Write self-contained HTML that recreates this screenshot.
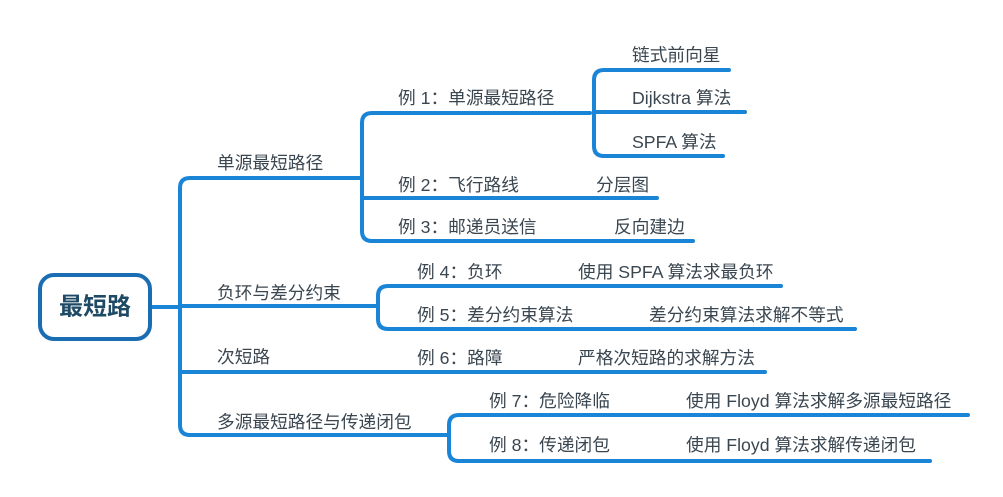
<!DOCTYPE html>
<html><head><meta charset="utf-8"><style>
html,body{margin:0;padding:0;background:#fff;}
svg{display:block}
text{font-family:"Liberation Sans","Noto Sans CJK SC",sans-serif;font-size:17.7px;fill:#3a4650;dominant-baseline:central;}
</style></head><body>
<svg width="1003" height="497" viewBox="0 0 1003 497">
<g fill="none" stroke="#1a84d6" stroke-width="4" stroke-linecap="round" stroke-linejoin="round">
<path d="M150 307 H180"/>
<path d="M362 178 H190 Q180 178 180 188 V425 Q180 435 190 435 H449"/>
<path d="M180 306 H378"/>
<path d="M180 372 H765"/>
<path d="M590 113 H372 Q362 113 362 123 V231 Q362 241 372 241 H693"/>
<path d="M362 198 H657"/>
<path d="M729 70 H604 Q594 70 594 80 V146 Q594 156 604 156 H723"/>
<path d="M594 112 H745"/>
<path d="M781 286 H388 Q378 286 378 296 V319 Q378 329 388 329 H855"/>
<path d="M968 415 H459 Q449 415 449 425 V451 Q449 461 459 461 H930"/>
</g>
<rect x="40" y="275" width="110" height="64" rx="14" fill="#fff" stroke="#1a6db3" stroke-width="4"/>
<text x="95" y="307" text-anchor="middle" style="font-size:24px;font-weight:bold;fill:#1e4a66">最短路</text>

<text x="217" y="163">单源最短路径</text>
<text x="217" y="293">负环与差分约束</text>
<text x="217" y="357">次短路</text>
<text x="217" y="422">多源最短路径与传递闭包</text>

<text x="398" y="98">例 1：单源最短路径</text>
<text x="398" y="185">例 2：飞行路线</text>
<text x="398" y="227">例 3：邮递员送信</text>
<text x="632" y="55">链式前向星</text>
<text x="632" y="98">Dijkstra 算法</text>
<text x="632" y="142">SPFA 算法</text>
<text x="596" y="185">分层图</text>
<text x="614" y="227">反向建边</text>

<text x="417" y="272">例 4：负环</text>
<text x="417" y="315">例 5：差分约束算法</text>
<text x="417" y="358">例 6：路障</text>
<text x="578" y="272">使用 SPFA 算法求最负环</text>
<text x="649" y="315">差分约束算法求解不等式</text>
<text x="578" y="358">严格次短路的求解方法</text>

<text x="489" y="401">例 7：危险降临</text>
<text x="489" y="445">例 8：传递闭包</text>
<text x="686" y="401">使用 Floyd 算法求解多源最短路径</text>
<text x="686" y="445">使用 Floyd 算法求解传递闭包</text>
</svg>
</body></html>
